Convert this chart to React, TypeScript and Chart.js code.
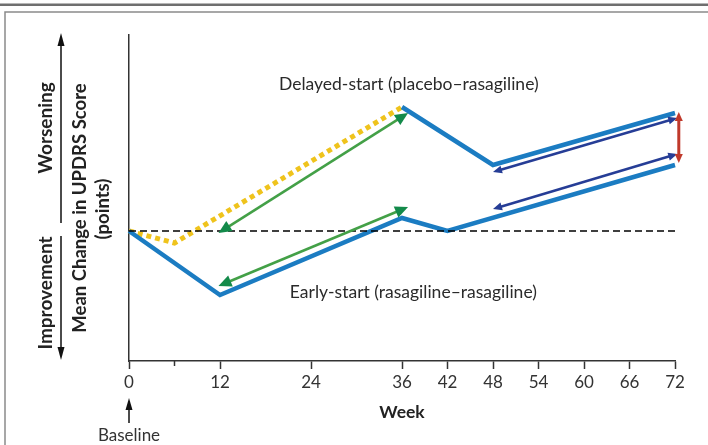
import React, { useEffect, useRef } from "react";
import { Chart, registerables } from "chart.js";
Chart.register(...registerables);

// ---- data ----
const weekTicks = [0, 6, 12, 24, 36, 42, 48, 54, 60, 66, 72];
const labeledTicks = [0, 12, 24, 36, 42, 48, 54, 60, 66, 72];

const earlyWeeks = [0, 12, 36, 42, 72];
const earlyValues = [0, -3.2, 0.65, 0, 3.3];
const delayedWeeks = [36, 48, 72];
const delayedValues = [6.2, 3.3, 5.9];
const placeboWeeks = [0, 6, 36];
const placeboValues = [0, -0.6, 6.2];
const baselineWeeks = [0, 72];
const baselineValues = [0, 0];

// double-headed arrows: [week1, value1, week2, value2]
const greenArrows = [
  [11.8, -0.1, 36.8, 5.9],
  [11.8, -2.75, 36.8, 1.2],
];
const navyArrows = [
  [48, 2.95, 72.3, 5.65],
  [48, 1.1, 72.3, 3.85],
];
const redArrows = [[72.5, 5.95, 72.5, 3.4]];

const seriesLabels = ["Delayed-start (placebo–rasagiline)", "Early-start (rasagiline–rasagiline)"];
const seriesLabelWeeks = [36.9, 37.5];
const seriesLabelValues = [7.35, -3.05];

const yTitle = ["Mean Change in UPDRS Score", "(points)"];
const worseLabel = "Worsening";
const betterLabel = "Improvement";
const xTitle = "Week";
const baselineLabel = "Baseline";

const yMin = -6.5;
const yMax = 9.8;

const FONT = "Lato, 'Open Sans', sans-serif";
const BLUE = "#1b7cc2";

function head(ctx: CanvasRenderingContext2D, x: number, y: number, a: number, len: number, w: number, color: string) {
  ctx.save();
  ctx.translate(x, y);
  ctx.rotate(a);
  ctx.beginPath();
  ctx.moveTo(0, 0);
  ctx.lineTo(-len, w / 2);
  ctx.lineTo(-len, -w / 2);
  ctx.closePath();
  ctx.fillStyle = color;
  ctx.fill();
  ctx.restore();
}

function dblArrow(ctx: CanvasRenderingContext2D, x1: number, y1: number, x2: number, y2: number, line: string, hc: string, lw: number, len: number, w: number) {
  const a = Math.atan2(y2 - y1, x2 - x1);
  const dx = Math.cos(a), dy = Math.sin(a);
  ctx.save();
  ctx.beginPath();
  ctx.moveTo(x1 + dx * len * 0.7, y1 + dy * len * 0.7);
  ctx.lineTo(x2 - dx * len * 0.7, y2 - dy * len * 0.7);
  ctx.strokeStyle = line;
  ctx.lineWidth = lw;
  ctx.stroke();
  ctx.restore();
  head(ctx, x2, y2, a, len, w, hc);
  head(ctx, x1, y1, a + Math.PI, len, w, hc);
}

function rotText(ctx: CanvasRenderingContext2D, t: string, x: number, y: number, font: string) {
  ctx.save();
  ctx.fillStyle = "#222";
  ctx.textAlign = "center";
  ctx.textBaseline = "middle";
  ctx.font = font;
  ctx.translate(x, y);
  ctx.rotate(-Math.PI / 2);
  ctx.fillText(t, 0, 0);
  ctx.restore();
}

const decor = {
  id: "decor",
  beforeDraw(chart: any) {
    const ctx = chart.ctx as CanvasRenderingContext2D;
    ctx.save();
    ctx.fillStyle = "#fff";
    ctx.fillRect(0, 0, chart.width, chart.height);
    ctx.fillStyle = "#6f6f6f";
    ctx.fillRect(0, 3.5, chart.width, 2.5);
    ctx.strokeStyle = "#8a8a8a";
    ctx.lineWidth = 1.5;
    ctx.beginPath();
    ctx.moveTo(5, chart.height);
    ctx.lineTo(5, 12);
    ctx.lineTo(chart.width, 12);
    ctx.stroke();
    ctx.restore();
  },
  afterDraw(chart: any) {
    const ctx = chart.ctx as CanvasRenderingContext2D;
    const xs = chart.scales.x;
    const ys = chart.scales.y;
    const area = chart.chartArea;
    const px = (v: number) => xs.getPixelForValue(v);
    const py = (v: number) => ys.getPixelForValue(v);

    // minor tick at week 6
    ctx.save();
    ctx.strokeStyle = "#333";
    ctx.lineWidth = 1.5;
    ctx.beginPath();
    ctx.moveTo(px(6), area.bottom);
    ctx.lineTo(px(6), area.bottom + 5);
    ctx.stroke();
    ctx.restore();

    // arrows
    greenArrows.forEach((a) => dblArrow(ctx, px(a[0]), py(a[1]), px(a[2]), py(a[3]), "#43a047", "#138a4a", 2.5, 13, 12));
    navyArrows.forEach((a) => dblArrow(ctx, px(a[0]), py(a[1]), px(a[2]), py(a[3]), "#263d96", "#263d96", 2.5, 9, 8));
    redArrows.forEach((a) => dblArrow(ctx, px(a[0]), py(a[1]), px(a[2]), py(a[3]), "#c0392b", "#c0392b", 3, 9, 8));

    // series labels
    ctx.save();
    ctx.fillStyle = "#2a2a2a";
    ctx.font = `17.5px ${FONT}`;
    ctx.textAlign = "center";
    ctx.textBaseline = "middle";
    seriesLabels.forEach((t, i) => ctx.fillText(t, px(seriesLabelWeeks[i]), py(seriesLabelValues[i])));
    ctx.restore();

    // y-axis titles
    const yFont = `bold 18.5px ${FONT}`;
    rotText(ctx, yTitle[0], 80, 208, yFont);
    rotText(ctx, yTitle[1], 103, 209, yFont);
    const sideFont = `bold 19px ${FONT}`;
    rotText(ctx, worseLabel, 46, 128, sideFont);
    rotText(ctx, betterLabel, 46, 293, sideFont);

    // worsening / improvement arrows
    ctx.save();
    ctx.strokeStyle = "#111";
    ctx.lineWidth = 1.5;
    ctx.beginPath();
    ctx.moveTo(61, 223);
    ctx.lineTo(61, 40);
    ctx.moveTo(61, 236);
    ctx.lineTo(61, 353);
    ctx.stroke();
    ctx.restore();
    head(ctx, 61, 33, -Math.PI / 2, 13, 7, "#111");
    head(ctx, 61, 360, Math.PI / 2, 13, 7, "#111");

    // baseline arrow + text
    const bx = px(0);
    ctx.save();
    ctx.strokeStyle = "#111";
    ctx.lineWidth = 1.5;
    ctx.beginPath();
    ctx.moveTo(bx, 423);
    ctx.lineTo(bx, 408);
    ctx.stroke();
    ctx.restore();
    head(ctx, bx, 398, -Math.PI / 2, 12, 7, "#111");
    ctx.save();
    ctx.fillStyle = "#333";
    ctx.font = `17px ${FONT}`;
    ctx.textAlign = "center";
    ctx.textBaseline = "middle";
    ctx.fillText(baselineLabel, bx, 436);
    ctx.restore();
  },
};

export default function App() {
  const ref = useRef<HTMLCanvasElement | null>(null);
  useEffect(() => {
    if (!ref.current) return;
    Chart.defaults.font.family = FONT;
    const chart = new Chart(ref.current, {
      type: "line",
      data: {
        datasets: [
          {
            data: baselineWeeks.map((w, i) => ({ x: w, y: baselineValues[i] })),
            borderColor: "#000",
            borderWidth: 1.3,
            borderDash: [7, 4],
            pointRadius: 0,
          },
          {
            data: earlyWeeks.map((w, i) => ({ x: w, y: earlyValues[i] })),
            borderColor: BLUE,
            borderWidth: 4.5,
            pointRadius: 0,
            borderJoinStyle: "miter",
          },
          {
            data: delayedWeeks.map((w, i) => ({ x: w, y: delayedValues[i] })),
            borderColor: BLUE,
            borderWidth: 4.5,
            pointRadius: 0,
            borderJoinStyle: "miter",
          },
          {
            data: placeboWeeks.map((w, i) => ({ x: w, y: placeboValues[i] })),
            borderColor: "#efc31c",
            borderWidth: 5,
            borderDash: [5, 4],
            pointRadius: 0,
          },
        ],
      },
      options: {
        animation: false,
        responsive: false,
        events: [],
        clip: false as any,
        layout: { padding: { left: 129, right: 33, top: 35, bottom: 0 } },
        plugins: { legend: { display: false }, tooltip: { enabled: false } },
        scales: {
          x: {
            type: "linear",
            min: 0,
            max: 72,
            afterBuildTicks: (s: any) => {
              s.ticks = weekTicks.map((v) => ({ value: v }));
            },
            afterFit: (s: any) => {
              s.height = 84;
            },
            ticks: {
              autoSkip: false,
              maxRotation: 0,
              padding: 3,
              color: "#333",
              font: { size: 17 },
              callback: (v: any) => (labeledTicks.includes(Number(v)) ? String(v) : ""),
            },
            grid: {
              drawOnChartArea: false,
              drawTicks: true,
              tickLength: 8,
              tickWidth: 1.5,
              tickColor: (c: any) => (c.tick && c.tick.value === 6 ? "rgba(0,0,0,0)" : "#333"),
            },
            border: { display: true, color: "#333", width: 1.5 },
            title: {
              display: true,
              text: xTitle,
              color: "#222",
              font: { size: 17.5, weight: "bold" },
              padding: { top: 0, bottom: 22 },
            },
          },
          y: {
            type: "linear",
            min: yMin,
            max: yMax,
            afterFit: (s: any) => {
              s.width = 0;
            },
            ticks: { display: false },
            grid: { display: false },
            border: { display: true, color: "#333", width: 1.5 },
          },
        },
      },
      plugins: [decor],
    } as any);
    return () => chart.destroy();
  }, []);
  return (
    <div style={{ position: "fixed", left: 0, top: 0, width: 708, height: 445, background: "#fff" }}>
      <canvas ref={ref} width={708} height={445} style={{ width: 708, height: 445, display: "block" }} />
    </div>
  );
}
